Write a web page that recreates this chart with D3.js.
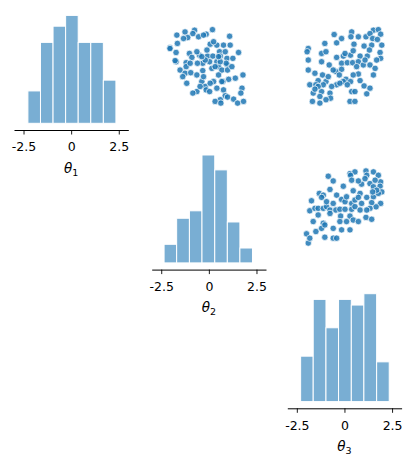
<!DOCTYPE html>
<html>
<head>
<meta charset="utf-8">
<script src="https://cdnjs.cloudflare.com/ajax/libs/d3/7.8.5/d3.min.js"></script>
<style>
  body { margin: 0; background: #fff; font-family: 'DejaVu Sans', sans-serif; }
</style>
</head>
<body>
<svg id="chart" width="412" height="466"></svg>
<script>
// parameter labels and tick values
var labels = ["1", "2", "3"];
var tickValues = [-2.5, 0, 2.5];
var tickLabels = ["-2.5", "0", "2.5"];
var limits = [-3, 3];

// histogram bin edges and counts (diagonal panels)
var edges1 = [-2.27, -1.61, -0.95, -0.29, 0.37, 1.03, 1.69, 2.35];
var counts1 = [6, 15, 18, 20, 15, 15, 8];
var edges2 = [-2.35, -1.69, -1.02, -0.36, 0.31, 0.97, 1.63, 2.29];
var counts2 = [5, 12, 14, 29, 25, 11, 4];
var edges3 = [-2.30, -1.64, -0.97, -0.31, 0.36, 1.02, 1.69, 2.35];
var counts3 = [8, 18, 13, 18, 17, 19, 7];

// upper panels: [x, y] samples
// theta2 (x) vs theta1 (y)
var pts12 = [
  [0.19,1.96],[-0.75,1.93],[-0.84,1.75],[-1.25,1.84],[-1.68,1.67],[-0.14,1.72],[-0.54,1.58],[1.09,1.61],
  [-1.11,1.54],[-1.65,1.23],[-2.04,1.0],[-1.72,0.75],[0.07,1.19],[0.42,1.14],[0.77,1.14],[1.12,1.14],
  [0.56,0.79],[1.56,0.75],[-1.02,0.70],[-0.49,0.61],[-0.89,0.49],[-0.07,0.56],[0.21,0.56],[0.60,0.56],
  [0.95,0.44],[1.26,0.44],[-1.72,0.26],[-1.19,0.21],[-0.32,0.18],[0.04,0.26],[0.42,0.26],[0.98,0.09],
  [-1.51,-0.18],[-1.25,-0.35],[-0.95,-0.32],[-0.63,-0.44],[-0.32,-0.21],[0.16,-0.09],[0.51,0.0],[0.68,-0.18],
  [0.51,-0.44],[1.04,-0.67],[1.79,-0.44],[-1.37,-0.53],[-1.16,-0.88],[-0.37,-0.79],[0.25,-0.79],[0.74,-0.79],
  [-0.19,-1.05],[-0.14,-1.23],[-0.63,-1.32],[-0.84,-1.40],[0.04,-1.32],[0.77,-1.23],[1.74,-1.14],[1.68,-1.40],
  [0.86,-1.54],[0.60,-1.75],[0.33,-1.84],[1.30,-1.72],[1.51,-1.93],[1.82,-1.84],[0.98,-1.61],[0.63,-1.93],
  [-2.04,0.96],[-1.77,0.32],[-0.28,1.67],[0.25,1.32],[-0.19,0.35],[-0.37,0.53],[0.33,0.0],[0.91,0.18],
  [0.98,-0.18],[-1.19,0.0],[-0.28,-0.53],[0.07,-0.88],[0.42,-1.14],[-0.46,-1.05],[1.39,-0.61],[1.21,0.0],
  [-0.98,0.18],[-0.60,0.18],[0.60,0.26],[-0.10,0.88],[-0.63,0.79],[0.86,0.79],[-1.33,1.49],[0.68,-0.79],
  [0.51,0.53]
];
// theta3 (x) vs theta1 (y)
var pts13 = [
  [0.38,1.84],[-0.54,1.70],[-0.15,1.49],[0.34,1.58],[0.73,1.58],[1.13,1.58],[1.52,1.93],[1.78,1.96],
  [1.90,1.72],[1.34,1.75],[1.48,1.49],[1.73,1.44],[-1.03,1.23],[-0.41,1.26],[0.50,1.19],[1.03,1.09],
  [1.43,1.14],[1.96,1.14],[-1.90,0.96],[-1.96,0.79],[-1.20,0.70],[-0.97,0.79],[-0.06,0.56],[0.32,0.61],
  [0.82,0.56],[1.20,0.56],[1.87,0.75],[1.90,0.44],[-1.90,0.35],[-1.90,-0.18],[-1.20,0.26],[-0.80,0.09],
  [-0.15,0.18],[0.15,0.21],[0.43,0.21],[0.73,0.26],[0.99,0.09],[1.34,0.09],[1.61,-0.09],[-1.55,-0.35],
  [-1.15,-0.44],[-1.38,-0.74],[-0.97,-0.79],[-0.45,-0.26],[-0.15,-0.14],[-0.27,-0.44],[0.08,-0.67],[0.32,-0.79],
  [0.73,-0.39],[0.46,-0.44],[-0.06,-0.79],[1.52,-0.44],[-1.82,-0.96],[-1.50,-0.96],[-1.11,-0.96],[-0.41,-0.96],
  [0.15,-0.96],[1.03,-1.02],[1.34,-1.14],[-1.64,-1.40],[-1.20,-1.32],[-0.76,-1.40],[-1.29,-1.58],[-0.73,-1.67],
  [-0.97,-1.75],[0.38,-1.32],[0.55,-1.32],[1.17,-1.44],[-1.68,-1.84],[-1.29,-1.93],[0.29,-1.84],[0.55,-1.84],
  [0.03,0.70],[-0.41,0.49],[1.08,0.35],[0.64,0.0],[-0.59,-0.18],[-0.85,-0.53],[-1.38,-1.05],[-1.55,-1.19],
  [0.82,-0.74],[1.69,0.35],[1.31,0.88],[0.46,0.84],[-0.67,-1.05],[-0.24,-0.88]
];
// theta3 (x) vs theta2 (y)
var pts23 = [
  [0.29,1.73],[0.55,1.82],[1.13,1.87],[1.52,1.82],[1.78,1.64],[1.90,1.29],[1.87,1.06],[1.96,0.76],
  [-0.85,1.59],[-0.59,1.34],[0.32,1.64],[1.17,1.64],[0.90,1.17],[1.34,1.20],[1.52,1.03],[-0.06,1.06],
  [0.46,0.82],[0.82,0.68],[1.17,0.47],[1.52,0.50],[1.78,0.68],[1.90,0.15],[1.66,-0.03],[1.43,0.19],
  [-1.32,0.68],[-1.11,0.59],[-1.20,0.47],[-0.76,0.89],[-0.41,0.59],[-0.15,0.36],[0.03,0.24],[0.38,0.15],
  [0.55,0.33],[0.73,0.47],[0.90,0.15],[1.34,-0.11],[-1.73,0.29],[-1.82,-0.24],[-1.55,-0.11],[-1.38,-0.11],
  [-1.11,-0.11],[-0.94,-0.02],[-0.76,-0.20],[-0.45,-0.20],[-0.24,-0.16],[0.03,-0.16],[0.38,-0.16],[-0.20,-0.52],
  [0.29,-0.52],[0.46,-0.73],[0.73,-0.81],[1.13,-0.59],[1.43,-0.69],[-1.64,-0.81],[-1.11,-0.90],[-1.20,-1.17],
  [-1.50,-1.34],[-0.59,-1.17],[-0.15,-1.25],[0.29,-1.25],[-1.99,-1.46],[-1.90,-1.95],[-1.03,-1.64],[-0.59,-1.69],
  [-0.41,-1.69],[-0.76,-0.38],[-0.59,0.15],[0.38,1.38],[0.73,1.34],[1.08,1.46],[1.61,1.38],[1.69,0.85],
  [0.55,-0.02],[0.11,0.50],[1.17,-0.20],[-1.38,-0.46],[-1.03,-0.99],[-1.82,-1.69],[-0.24,-0.81],[0.11,-0.81],
  [-0.94,0.24],[0.82,-0.20],[1.48,0.76]
];

var hists = [[edges1, counts1], [edges2, counts2], [edges3, counts3]];
var scatters = { "0-1": pts12, "0-2": pts13, "1-2": pts23 };

// grid geometry
var colX = [14, 151.7, 287.3],
    rowY = [10, 149.6, 288.3],
    cellW = 114.3,
    cellH = 113.3,
    spineOffset = 6.7;

var svg = d3.select("#chart");

var x = d3.scaleLinear().domain(limits).range([0, cellW]);
var yS = d3.scaleLinear().domain(limits).range([cellH, 0]);

for (var i = 0; i < 3; i++) {
  for (var j = i; j < 3; j++) {
    var g = svg.append("g")
      .attr("transform", "translate(" + colX[j] + "," + rowY[i] + ")");

    if (i == j) {
      var e = hists[i][0], c = hists[i][1];
      var bins = c.map(function (v, k) { return { x0: e[k], x1: e[k + 1], n: v }; });
      var yH = d3.scaleLinear().domain([0, d3.max(c) * 1.05]).range([cellH, 0]);

      g.selectAll("rect")
        .data(bins)
        .enter()
        .append("rect")
          .attr("x", function (d) { return x(d.x0); })
          .attr("width", function (d) { return x(d.x1) - x(d.x0); })
          .attr("y", function (d) { return yH(d.n); })
          .attr("height", function (d) { return cellH - yH(d.n); })
          .style("fill", "#79aed3")
          .style("stroke", "#fff")
          .style("stroke-width", 1);

      // bottom axis, offset outward
      var ax = g.append("g")
        .attr("transform", "translate(0," + (cellH + spineOffset) + ")")
        .call(d3.axisBottom(x)
          .tickValues(tickValues)
          .tickFormat(function (d, k) { return tickLabels[k]; })
          .tickSizeInner(4.5)
          .tickSizeOuter(0)
          .tickPadding(8));
      ax.select(".domain").attr("stroke", "#000").attr("stroke-width", 1);
      ax.selectAll(".tick line").attr("stroke", "#000").attr("stroke-width", 0.9);
      ax.selectAll(".tick text")
        .attr("fill", "#000")
        .style("font-family", "DejaVu Sans")
        .style("font-size", "12.5px");

      var lab = g.append("text")
        .attr("x", cellW / 2)
        .attr("y", cellH + spineOffset + 42.5)
        .attr("text-anchor", "middle")
        .style("font-family", "DejaVu Sans")
        .style("font-size", "13.5px");
      lab.append("tspan").style("font-style", "italic").text("θ");
      lab.append("tspan")
        .attr("dy", 3)
        .style("font-size", "9.5px")
        .text(labels[i]);
    } else {
      g.selectAll("circle")
        .data(scatters[i + "-" + j])
        .enter()
        .append("circle")
          .attr("cx", function (d) { return x(d[0]); })
          .attr("cy", function (d) { return yS(d[1]); })
          .attr("r", 3.2)
          .style("fill", "#1f77b4")
          .style("fill-opacity", 0.85)
          .style("stroke", "#fff")
          .style("stroke-width", 0.7);
    }
  }
}
</script>
</body>
</html>
